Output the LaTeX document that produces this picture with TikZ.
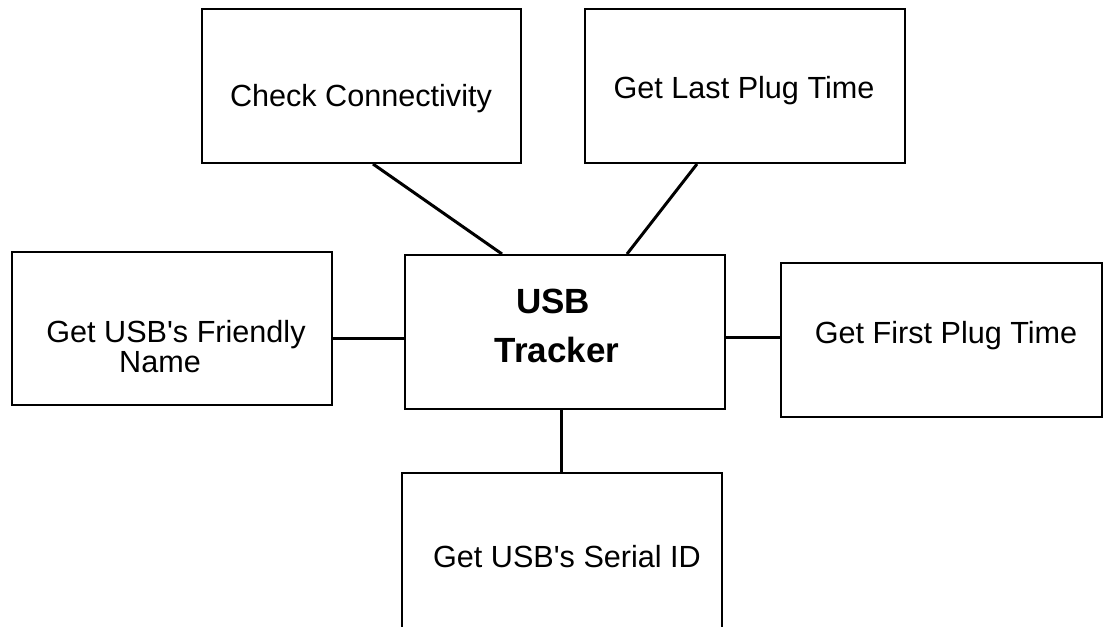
\documentclass[tikz,border=0pt]{standalone}
\usepackage{fontspec}
\setmainfont{Liberation Sans}
\begin{document}
\begin{tikzpicture}[x=1pt,y=-1pt,
  box/.style={draw,line width=2pt,rectangle,inner sep=0pt},
  link/.style={line width=3pt},
  lbl/.style={anchor=base,inner sep=0pt,font=\fontsize{30.6}{36}\selectfont},
  hdr/.style={anchor=base,inner sep=0pt,font=\bfseries\fontsize{35}{42}\selectfont}]
\clip (0,0) rectangle (1107,626);
\fill[white] (0,0) rectangle (1107,626);

% boxes
\node[box,minimum width=319pt,minimum height=154pt] (cc)  at (361.5,86)  {};
\node[box,minimum width=320pt,minimum height=154pt] (lp)  at (745,86)    {};
\node[box,minimum width=320pt,minimum height=153pt] (fn)  at (172,328.5) {};
\node[box,minimum width=320pt,minimum height=154pt] (tr)  at (565,332)   {};
\node[box,minimum width=321pt,minimum height=154pt] (fp)  at (941.5,340) {};
\node[box,minimum width=320pt,minimum height=170pt] (sid) at (562,558)   {};

% labels
\node[lbl] (cct) at (361,106) {Check Connectivity};
\node[lbl] (lpt) at (744,98)  {Get Last Plug Time};
\node[lbl] (fn1) at (176,342) {Get USB\textquotesingle s Friendly};
\node[lbl] (fn2) at (160,372) {Name};
\node[hdr] (tr1) at (553,313) {USB};
\node[hdr] (tr2) at (557,362) {Tracker};
\node[lbl] (fpt) at (946,343) {Get First Plug Time};
\node[lbl] (sit) at (567,567) {Get USB\textquotesingle s Serial ID};

% connectors
\draw[link] ([xshift=11.5pt]cc.south) -- ([xshift=-63pt]tr.north);
\draw[link] ([xshift=-48pt]lp.south) -- ([xshift=62pt]tr.north);
\draw[link] (fn.east |- 0,338) -- (tr.west |- 0,338);
\draw[link] (tr.east |- 0,337) -- (fp.west |- 0,337);
\draw[link] (tr.south -| 561,0) -- (sid.north -| 561,0);
\end{tikzpicture}
\end{document}
